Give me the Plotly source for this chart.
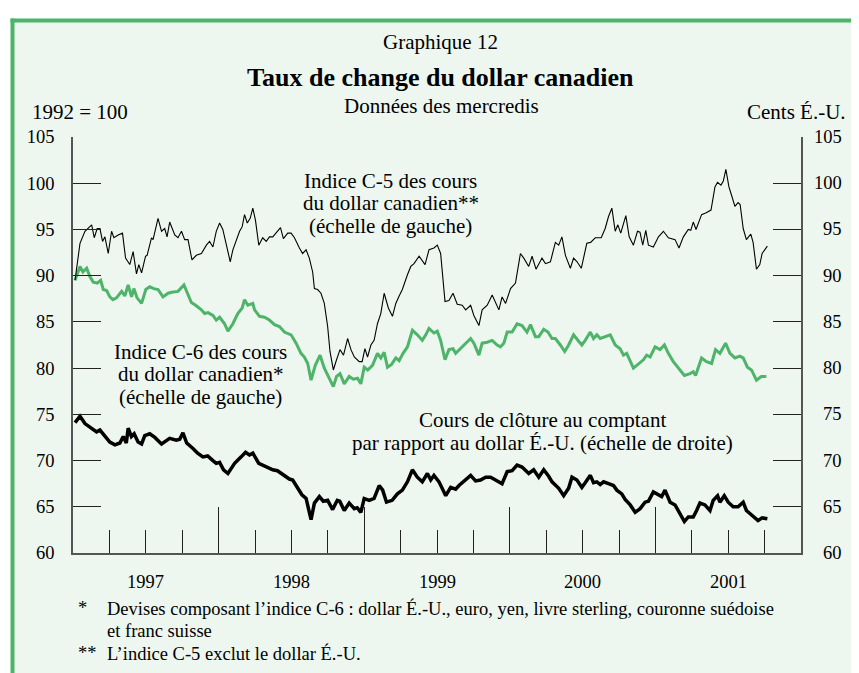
import plotly.graph_objects as go

# ---------------- data ----------------
# Indice C-5 (left scale, 1992 = 100), weekly (Wednesday) readings, time in decimal years
c5_t = [1997.014, 1997.048, 1997.082, 1997.128, 1997.146, 1997.166, 1997.185, 1997.203, 1997.219, 1997.242,
        1997.265, 1997.281, 1997.310, 1997.340, 1997.361, 1997.390, 1997.413, 1997.436, 1997.452, 1997.471,
        1997.498, 1997.509, 1997.539, 1997.550, 1997.584, 1997.608, 1997.630, 1997.646, 1997.664, 1997.699,
        1997.721, 1997.745, 1997.767, 1997.790, 1997.817, 1997.847, 1997.882, 1997.916, 1997.938, 1997.961,
        1997.984, 1998.007, 1998.029, 1998.053, 1998.080, 1998.098, 1998.121, 1998.144, 1998.162, 1998.178,
        1998.197, 1998.217, 1998.235, 1998.253, 1998.276, 1998.303, 1998.327, 1998.349, 1998.372, 1998.395,
        1998.425, 1998.445, 1998.475, 1998.498, 1998.521, 1998.555, 1998.577, 1998.601, 1998.623, 1998.646,
        1998.658, 1998.680, 1998.703, 1998.726, 1998.749, 1998.765, 1998.788, 1998.810, 1998.834, 1998.858,
        1998.886, 1998.909, 1998.932, 1998.966, 1998.986, 1999.005, 1999.023, 1999.046, 1999.068, 1999.091,
        1999.114, 1999.137, 1999.166, 1999.194, 1999.217, 1999.240, 1999.262, 1999.297, 1999.320, 1999.342,
        1999.377, 1999.418, 1999.445, 1999.479, 1999.502, 1999.525, 1999.555, 1999.582, 1999.610, 1999.639,
        1999.673, 1999.697, 1999.731, 1999.753, 1999.788, 1999.810, 1999.845, 1999.879, 1999.902, 1999.925,
        1999.947, 1999.971, 2000.005, 2000.039, 2000.073, 2000.096, 2000.130, 2000.153, 2000.180, 2000.221,
        2000.245, 2000.279, 2000.313, 2000.336, 2000.358, 2000.382, 2000.416, 2000.438, 2000.462, 2000.491,
        2000.529, 2000.555, 2000.587, 2000.628, 2000.655, 2000.678, 2000.701, 2000.724, 2000.742, 2000.762,
        2000.797, 2000.820, 2000.849, 2000.877, 2000.894, 2000.913, 2000.934, 2000.952, 2000.986, 2001.021,
        2001.055, 2001.089, 2001.135, 2001.162, 2001.192, 2001.226, 2001.243, 2001.260, 2001.279, 2001.317,
        2001.349, 2001.382, 2001.409, 2001.427, 2001.450, 2001.466, 2001.484, 2001.505, 2001.523, 2001.546,
        2001.568, 2001.582, 2001.603, 2001.625, 2001.655, 2001.671, 2001.694, 2001.717, 2001.733, 2001.769]
c5_v = [89.5, 93.5, 94.8, 95.5, 94.1, 95.1, 95.1, 93.7, 94.2, 92.4,
        94.8, 94.1, 94.4, 94.6, 91.9, 91.2, 92.6, 90.2, 91.2, 90.3,
        92.1, 92.2, 94.1, 93.9, 96.2, 94.8, 95.1, 94.2, 95.8, 94.4,
        94.1, 94.8, 93.9, 93.9, 91.7, 92.2, 92.4, 93.3, 93.7, 93.1,
        94.8, 95.7, 95.0, 93.3, 91.5, 92.8, 93.9, 94.8, 95.3, 96.6,
        95.7, 96.2, 97.3, 96.0, 93.3, 94.1, 93.7, 94.2, 94.2, 94.6,
        95.2, 94.0, 94.6, 94.6, 94.1, 93.0, 92.4, 92.8, 91.9, 90.4,
        88.6, 88.5, 88.1, 87.0, 84.5, 81.8, 79.8, 80.9, 82.0, 81.4,
        83.2, 82.0, 81.2, 80.7, 80.7, 82.1, 81.2, 82.5, 83.0, 84.8,
        85.9, 88.1, 86.5, 85.6, 87.0, 87.8, 88.5, 90.1, 91.0, 91.3,
        92.1, 91.2, 92.8, 93.0, 93.3, 92.4, 87.2, 87.3, 88.1, 86.9,
        86.8, 86.3, 86.8, 85.7, 84.6, 86.3, 86.8, 87.9, 87.0, 86.3,
        87.7, 87.0, 88.6, 89.2, 92.4, 91.9, 91.0, 92.1, 90.7, 91.9,
        91.3, 91.5, 93.6, 93.3, 94.2, 92.2, 90.8, 91.9, 91.5, 90.8,
        93.5, 93.6, 94.1, 94.1, 95.1, 96.4, 97.3, 94.8, 95.5, 94.6,
        96.5, 94.2, 93.3, 94.8, 94.7, 93.3, 94.9, 93.3, 93.1, 94.2,
        94.8, 94.1, 93.9, 93.0, 94.2, 95.0, 94.9, 95.8, 95.0, 96.6,
        96.8, 97.1, 99.6, 100.1, 99.8, 100.2, 101.5, 99.6, 98.7, 97.5,
        97.9, 97.7, 95.1, 93.9, 94.5, 93.6, 90.7, 91.2, 92.4, 93.2]

# Indice C-6 (left scale)
c6_t = [1997.014, 1997.048, 1997.068, 1997.094, 1997.116, 1997.139, 1997.166, 1997.190, 1997.208, 1997.231,
        1997.253, 1997.274, 1997.299, 1997.334, 1997.356, 1997.379, 1997.402, 1997.418, 1997.440, 1997.471,
        1997.500, 1997.527, 1997.555, 1997.584, 1997.618, 1997.653, 1997.678, 1997.721, 1997.762, 1997.790,
        1997.813, 1997.842, 1997.882, 1997.904, 1997.928, 1997.961, 1997.984, 1998.007, 1998.041, 1998.064,
        1998.098, 1998.132, 1998.162, 1998.178, 1998.201, 1998.235, 1998.247, 1998.281, 1998.315, 1998.349,
        1998.384, 1998.418, 1998.452, 1998.498, 1998.532, 1998.566, 1998.589, 1998.612, 1998.635, 1998.664,
        1998.697, 1998.726, 1998.760, 1998.788, 1998.810, 1998.834, 1998.863, 1998.897, 1998.925, 1998.954,
        1998.977, 1999.000, 1999.024, 1999.057, 1999.091, 1999.114, 1999.137, 1999.160, 1999.188, 1999.217,
        1999.240, 1999.267, 1999.297, 1999.331, 1999.365, 1999.399, 1999.423, 1999.445, 1999.479, 1999.502,
        1999.525, 1999.555, 1999.582, 1999.610, 1999.628, 1999.662, 1999.697, 1999.731, 1999.753, 1999.788,
        1999.810, 1999.845, 1999.879, 1999.913, 1999.936, 1999.959, 1999.982, 2000.016, 2000.050, 2000.084,
        2000.118, 2000.142, 2000.176, 2000.199, 2000.233, 2000.262, 2000.290, 2000.313, 2000.347, 2000.377,
        2000.404, 2000.438, 2000.473, 2000.495, 2000.518, 2000.553, 2000.575, 2000.598, 2000.621, 2000.655,
        2000.690, 2000.724, 2000.758, 2000.781, 2000.803, 2000.849, 2000.884, 2000.918, 2000.940, 2000.964,
        2000.998, 2001.032, 2001.062, 2001.089, 2001.123, 2001.158, 2001.199, 2001.238, 2001.260, 2001.276,
        2001.317, 2001.351, 2001.386, 2001.413, 2001.443, 2001.482, 2001.512, 2001.546, 2001.580, 2001.603,
        2001.632, 2001.660, 2001.694, 2001.728, 2001.762]
c6_v = [89.5, 91.0, 90.4, 90.8, 89.9, 89.3, 89.2, 89.5, 88.5, 88.4,
        87.7, 87.4, 87.6, 88.3, 87.8, 89.0, 87.7, 88.6, 87.6, 87.0,
        88.5, 88.8, 88.6, 88.5, 87.7, 88.1, 88.2, 88.3, 89.0, 87.9,
        87.1, 86.8, 86.3, 85.9, 86.0, 85.7, 85.2, 85.5, 84.8, 84.0,
        84.8, 85.9, 86.5, 87.4, 86.8, 87.0, 86.3, 85.6, 85.5, 85.2,
        84.7, 84.5, 83.9, 83.6, 82.7, 81.6, 81.2, 80.5, 78.7, 80.3,
        81.4, 80.0, 78.9, 78.0, 79.1, 79.4, 78.3, 79.1, 78.8, 78.9,
        78.3, 80.1, 79.8, 80.3, 81.6, 81.1, 81.7, 80.1, 80.4, 81.1,
        80.8, 81.6, 82.3, 84.1, 83.6, 83.0, 83.6, 84.3, 83.8, 84.0,
        83.0, 80.9, 82.0, 82.1, 81.6, 82.1, 82.7, 83.2, 82.7, 81.4,
        82.7, 82.8, 83.0, 82.5, 82.3, 82.7, 83.9, 83.9, 84.8, 84.6,
        83.9, 84.7, 83.4, 83.4, 84.2, 83.9, 83.2, 83.2, 82.5, 81.8,
        82.5, 83.6, 82.9, 82.5, 83.0, 83.9, 83.2, 83.6, 83.2, 83.4,
        83.6, 82.5, 82.1, 81.4, 81.6, 80.0, 80.5, 80.9, 81.4, 81.2,
        82.3, 82.0, 82.5, 81.6, 80.7, 80.0, 79.2, 79.4, 79.6, 79.2,
        81.1, 80.7, 80.5, 82.0, 81.6, 82.7, 81.6, 81.1, 81.3, 81.1,
        80.1, 79.8, 78.7, 79.1, 79.1]

# Cours de clôture au comptant (right scale, cents É.-U.)
spot_t = [1997.014, 1997.048, 1997.082, 1997.116, 1997.162, 1997.185, 1997.219, 1997.253, 1997.288, 1997.322,
          1997.345, 1997.366, 1997.379, 1997.401, 1997.420, 1997.447, 1997.471, 1997.493, 1997.527, 1997.562,
          1997.608, 1997.664, 1997.710, 1997.733, 1997.755, 1997.781, 1997.824, 1997.856, 1997.892, 1997.925,
          1997.961, 1997.984, 1998.007, 1998.034, 1998.064, 1998.110, 1998.155, 1998.185, 1998.212, 1998.235,
          1998.276, 1998.303, 1998.338, 1998.372, 1998.404, 1998.438, 1998.464, 1998.486, 1998.509, 1998.543,
          1998.572, 1998.601, 1998.635, 1998.658, 1998.692, 1998.719, 1998.749, 1998.783, 1998.815, 1998.832,
          1998.863, 1998.897, 1998.932, 1998.952, 1998.977, 1999.000, 1999.034, 1999.068, 1999.103, 1999.127,
          1999.153, 1999.192, 1999.228, 1999.262, 1999.297, 1999.331, 1999.365, 1999.399, 1999.434, 1999.457,
          1999.479, 1999.514, 1999.560, 1999.594, 1999.628, 1999.651, 1999.697, 1999.731, 1999.765, 1999.799,
          1999.834, 1999.868, 1999.902, 1999.947, 1999.982, 2000.016, 2000.050, 2000.084, 2000.130, 2000.164,
          2000.199, 2000.233, 2000.267, 2000.290, 2000.336, 2000.370, 2000.404, 2000.427, 2000.461, 2000.495,
          2000.518, 2000.553, 2000.575, 2000.598, 2000.621, 2000.644, 2000.678, 2000.712, 2000.735, 2000.769,
          2000.792, 2000.827, 2000.861, 2000.895, 2000.929, 2000.952, 2000.986, 2001.021, 2001.043, 2001.066,
          2001.101, 2001.135, 2001.158, 2001.199, 2001.226, 2001.260, 2001.283, 2001.306, 2001.340, 2001.375,
          2001.397, 2001.427, 2001.443, 2001.473, 2001.500, 2001.534, 2001.568, 2001.603, 2001.625, 2001.660,
          2001.705, 2001.733, 2001.769]
spot_v = [74.1, 74.8, 74.0, 73.6, 73.1, 73.3, 72.6, 72.0, 71.7, 71.9,
          72.6, 71.9, 73.5, 72.6, 72.9, 72.0, 71.8, 72.7, 72.9, 72.5,
          71.8, 72.4, 72.2, 72.3, 73.0, 71.9, 71.3, 70.8, 70.4, 70.5,
          70.0, 69.7, 69.8, 69.0, 68.6, 69.7, 70.4, 70.9, 70.6, 70.8,
          69.7, 69.5, 69.3, 69.0, 68.9, 68.5, 68.2, 68.0, 67.9, 67.0,
          66.3, 65.9, 63.6, 65.4, 66.1, 65.6, 65.7, 64.7, 65.7, 65.6,
          64.6, 65.4, 64.8, 64.9, 64.4, 65.9, 65.7, 65.9, 67.3, 66.8,
          65.5, 65.7, 66.4, 66.8, 67.7, 69.0, 68.2, 67.7, 68.6, 67.9,
          68.4, 67.7, 66.2, 67.1, 66.9, 67.3, 67.9, 68.4, 67.8, 67.9,
          68.2, 68.2, 67.9, 67.5, 68.8, 68.9, 69.5, 69.3, 68.6, 69.0,
          68.2, 69.0, 68.3, 67.7, 67.0, 66.2, 67.0, 68.2, 67.9, 67.1,
          67.6, 68.4, 67.6, 67.7, 67.4, 67.7, 67.5, 67.3, 66.8, 66.4,
          65.8, 65.2, 64.4, 64.8, 65.5, 65.6, 66.6, 66.3, 66.1, 66.8,
          65.5, 65.2, 64.6, 63.4, 63.9, 63.9, 64.6, 65.4, 65.2, 64.6,
          65.7, 66.2, 65.5, 66.2, 65.5, 65.0, 65.0, 65.5, 64.6, 64.1,
          63.5, 63.8, 63.7]

years = [1997, 1998, 1999, 2000, 2001]
year_labels = ["1997", "1998", "1999", "2000", "2001"]
y_ticks = [60, 65, 70, 75, 80, 85, 90, 95, 100, 105]

# ---------------- styling ----------------
# The page body has an 8 px margin, so the figure is made 8 px smaller
# and every position below is given in window pixels.
OFF = 8
WIN_W, WIN_H = 859, 673
W, H = WIN_W - OFF, WIN_H - OFF
PLOT_L, PLOT_R, PLOT_T, PLOT_B = 73, 801, 137, 553     # window pixels
L, R, T, B = PLOT_L - OFF, W - (PLOT_R - OFF), PLOT_T - OFF, H - (PLOT_B - OFF)
PW, PH = PLOT_R - PLOT_L, PLOT_B - PLOT_T
FONT = "Liberation Serif, Times New Roman, serif"
GREEN = "#4DB46A"
MINT = "#EEF7EF"
AXC = "#555555"
TKC = "#222222"


def px(x):
    return (x - PLOT_L) / PW


def py(y):
    return (PLOT_B - y) / PH


fig = go.Figure()
fig.add_trace(go.Scatter(x=spot_t, y=spot_v, mode="lines", yaxis="y2",
                         line=dict(color="black", width=3.5), hoverinfo="skip"))
fig.add_trace(go.Scatter(x=c6_t, y=c6_v, mode="lines",
                         line=dict(color=GREEN, width=3.0), hoverinfo="skip"))
fig.add_trace(go.Scatter(x=c5_t, y=c5_v, mode="lines",
                         line=dict(color="black", width=1.1), hoverinfo="skip"))

ann = []


def text(x, y, s, size, xanchor="center", bold=False, xref="paper", yref="paper"):
    ann.append(dict(x=x, y=y, xref=xref, yref=yref, text=("<b>%s</b>" % s) if bold else s,
                    showarrow=False, xanchor=xanchor, yanchor="middle",
                    font=dict(family=FONT, size=size, color="black")))


text(px(440), py(42), "Graphique 12", 21)
text(px(440), py(78), "Taux de change du dollar canadien", 26, bold=True)
text(px(441), py(106), "Données des mercredis", 21)
text(px(30), py(112), "1992 = 100", 21, xanchor="left")
text(px(848), py(112), "Cents É.-U.", 21, xanchor="right")

# year labels centred in each year
for yr, lab in zip(years, year_labels):
    text(yr + 0.5, py(582), lab, 18.5, xref="x")

# right-hand tick labels (right-aligned as in the original)
for v in y_ticks:
    text(px(844), v, str(v), 18.5, xanchor="right", yref="y")

# series labels
for s, yy in [("Indice C-5 des cours", 181), ("du dollar canadien**", 203), ("(échelle de gauche)", 226)]:
    text(px(390.5), py(yy), s, 21)
for s, yy in [("Indice C-6 des cours", 352), ("du dollar canadien*", 374), ("(échelle de gauche)", 397)]:
    text(px(200.5), py(yy), s, 21)
for s, yy in [("Cours de clôture au comptant", 420),
              ("par rapport au dollar É.-U. (échelle de droite)", 443)]:
    text(px(542), py(yy), s, 21)

# footnotes
text(px(76), py(608), "*", 18.5, xanchor="left")
text(px(105), py(608), "Devises composant l\u2019indice C-6 : dollar É.-U., euro, yen, livre sterling, couronne suédoise", 18.5, xanchor="left")
text(px(105), py(631), "et franc suisse", 18.5, xanchor="left")
text(px(76), py(653), "**", 18.5, xanchor="left")
text(px(105), py(653), "L\u2019indice C-5 exclut le dollar É.-U.", 18.5, xanchor="left")

shapes = [
    dict(type="rect", xref="paper", yref="paper", x0=px(12.5), x1=px(WIN_W + 2), y0=py(WIN_H + 2), y1=py(20.5),
         fillcolor=MINT, line=dict(width=0), layer="below"),
    dict(type="line", xref="paper", yref="paper", x0=px(10.5), x1=px(WIN_W + 2), y0=py(20.5), y1=py(20.5),
         line=dict(color=GREEN, width=4), layer="below"),
    dict(type="line", xref="paper", yref="paper", x0=px(12.5), x1=px(12.5), y0=py(WIN_H + 2), y1=py(18.5),
         line=dict(color=GREEN, width=4), layer="below"),
]

fig.update_layout(
    width=W, height=H,
    margin=dict(l=L, r=R, t=T, b=B, pad=0),
    paper_bgcolor="white", plot_bgcolor="rgba(0,0,0,0)",
    showlegend=False,
    font=dict(family=FONT, size=18.5, color="black"),
    annotations=ann, shapes=shapes,
    xaxis=dict(range=[1997, 2002], tickmode="array", tickvals=years + [2002],
               ticks="inside", ticklen=46, tickwidth=1.2, tickcolor=TKC,
               showticklabels=False, showline=True, linecolor=AXC, linewidth=1.5,
               showgrid=False, zeroline=False,
               minor=dict(ticks="inside", ticklen=23, tickwidth=1.2, tickcolor=TKC,
                          tickmode="linear", tick0=1997, dtick=0.25, showgrid=False)),
    yaxis=dict(range=[60, 105], tickmode="array", tickvals=y_ticks,
               ticks="inside", ticklen=28, tickwidth=1.2, tickcolor=TKC,
               showline=True, linecolor=AXC, linewidth=1.5, showgrid=False, zeroline=False,
               tickfont=dict(family=FONT, size=18.5, color="black"), ticklabelstandoff=13),
    yaxis2=dict(range=[60, 105], overlaying="y", side="right", tickmode="array", tickvals=y_ticks,
                ticks="inside", ticklen=28, tickwidth=1.2, tickcolor=TKC,
                showline=True, linecolor=AXC, linewidth=1.5, showgrid=False, zeroline=False,
                showticklabels=False),
)

fig.write_html("out.html")
